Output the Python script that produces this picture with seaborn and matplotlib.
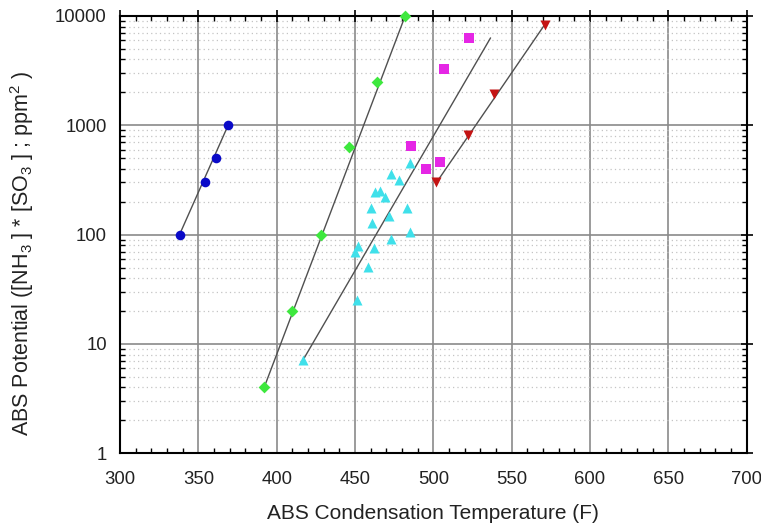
import numpy as np
import pandas as pd
import matplotlib
matplotlib.use("Agg")
import matplotlib.pyplot as plt
import seaborn as sns
from matplotlib.ticker import MultipleLocator, LogLocator, NullFormatter, FuncFormatter

# measured points (condensation temperature in F, ABS potential)
blue_t = [338, 354, 361, 369]
blue_abs = [100, 300, 500, 1000]

green_t = [392, 410, 428, 446, 464, 482]
green_abs = [4, 20, 100, 630, 2500, 10000]

cyan_t = [417, 451, 450, 452, 458, 462, 473, 485, 461, 472, 460, 483,
          469, 463, 466, 478, 473, 485]
cyan_abs = [7.2, 25, 70, 79, 51, 75, 91, 105, 127, 148, 175, 175,
            223, 247, 253, 318, 357, 456]

magenta_t = [486, 495, 504, 507, 523]
magenta_abs = [650, 400, 465, 3250, 6300]

red_t = [502, 522, 539, 571]
red_abs = [300, 820, 1925, 8300]

# trend lines (end points)
fit_blue_t, fit_blue_abs = [338, 369], [100, 1000]
fit_green_t, fit_green_abs = [392, 482], [4, 10000]
fit_cyan_t, fit_cyan_abs = [417, 536.5], [7.2, 6300]
fit_red_t, fit_red_abs = [502, 571], [300, 8300]

sns.set_style("white")
plt.rcParams["font.family"] = ["Liberation Sans", "DejaVu Sans"]
plt.rcParams["mathtext.default"] = "regular"
text_col = "#222222"

fig = plt.figure(figsize=(7.61, 5.27), dpi=100)
ax = fig.add_axes([0.1577, 0.1399, 0.8235, 0.8298])

# trend lines first, markers on top
for t, a in [(fit_blue_t, fit_blue_abs), (fit_green_t, fit_green_abs),
             (fit_cyan_t, fit_cyan_abs), (fit_red_t, fit_red_abs)]:
    sns.lineplot(x=t, y=a, ax=ax, color="#505050", lw=1.0, estimator=None,
                 sort=False, zorder=3)

series = [
    (blue_t, blue_abs, "#0a0ac8", "o", 48),
    (green_t, green_abs, "#3ee83e", "D", 36),
    (cyan_t, cyan_abs, "#3fe0ea", "^", 52),
    (magenta_t, magenta_abs, "#e526e5", "s", 46),
    (red_t, red_abs, "#c41414", "v", 52),
]
for t, a, c, m, s in series:
    df = pd.DataFrame({"temp": t, "abs": a})
    sns.scatterplot(data=df, x="temp", y="abs", ax=ax, color=c, marker=m,
                    s=s, edgecolor=c, linewidth=0, zorder=4, clip_on=False)

ax.set_yscale("log")
ax.set_xlim(300, 700)
ax.set_ylim(1, 10000)

ax.xaxis.set_major_locator(MultipleLocator(50))
ax.xaxis.set_minor_locator(MultipleLocator(10))
ax.yaxis.set_major_locator(LogLocator(base=10, numticks=10))
ax.yaxis.set_minor_locator(LogLocator(base=10, subs=np.arange(2, 10), numticks=10))
ax.yaxis.set_minor_formatter(NullFormatter())
ax.yaxis.set_major_formatter(FuncFormatter(lambda v, p: "{:g}".format(v)))

ax.grid(which="major", color="#8a8a8a", lw=1.2, zorder=1)
ax.grid(which="minor", axis="y", color="#c4c4c4", lw=0.9, ls=(0, (1, 2.5)), zorder=1)
ax.set_axisbelow(True)

for sp in ax.spines.values():
    sp.set_visible(True)
    sp.set_color("black")
    sp.set_linewidth(1.5)

ax.tick_params(which="major", direction="inout", length=9, width=1.2,
               top=True, right=True, labelsize=13.3, colors="black",
               labelcolor=text_col)
ax.tick_params(which="minor", direction="in", length=3.5, width=1.0,
               top=True, right=True, left=True, bottom=True, colors="black")
ax.tick_params(axis="x", which="major", pad=8)
ax.tick_params(axis="y", which="major", pad=5)

ax.set_xlabel("ABS Condensation Temperature (F)", fontsize=15, color=text_col,
              labelpad=12)
ax.set_ylabel("ABS Potential ([NH$_3$ ] * [SO$_3$ ] ; ppm$^2$ )", fontsize=15.5,
              color=text_col)
ax.yaxis.set_label_coords(-0.134, 0.456)

fig.savefig("out.png", dpi=100)
